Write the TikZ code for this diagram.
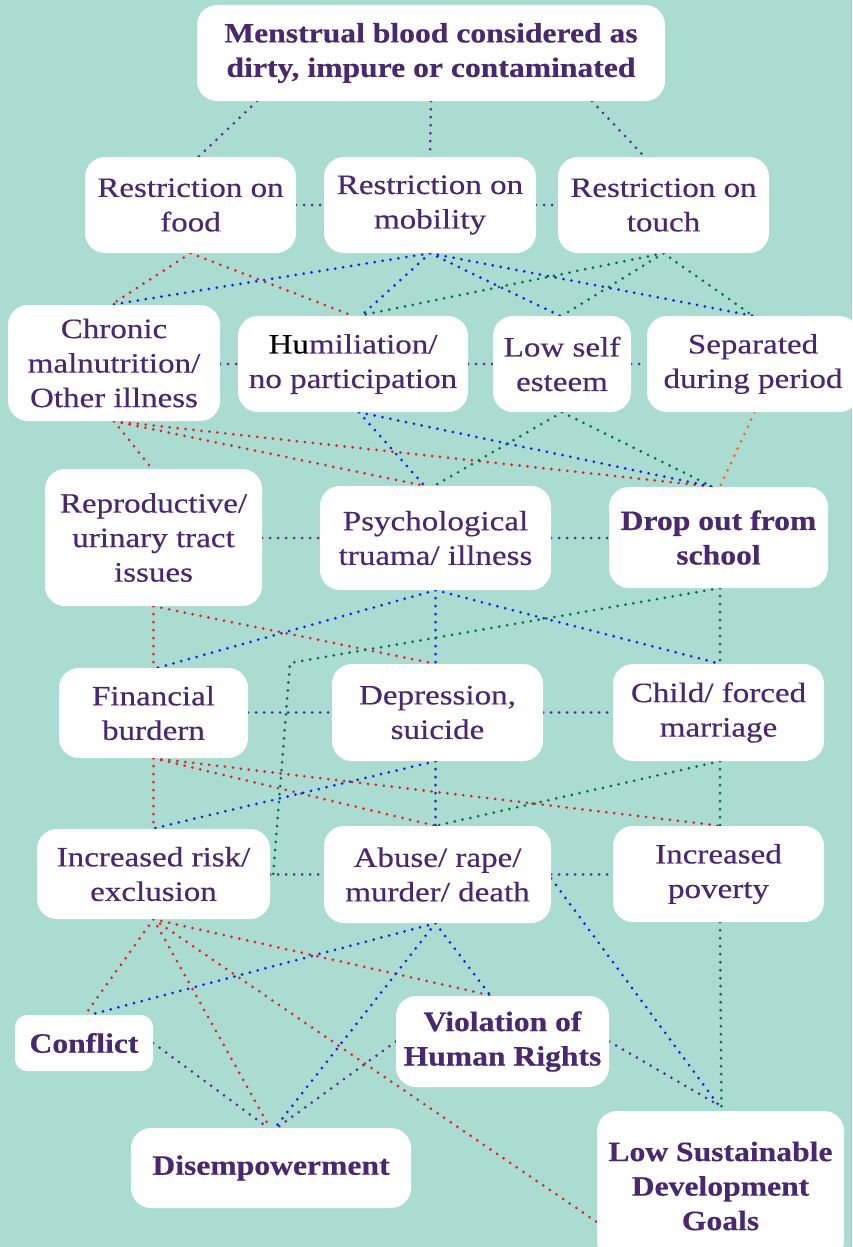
\documentclass[tikz,border=0pt]{standalone}
\usepackage{fontspec}
\setmainfont{Liberation Serif}[FakeStretch=1.18,FakeBold=0.4,BoldFeatures={FakeStretch=1.13}]
\usetikzlibrary{calc}
\definecolor{bgc}{HTML}{AADCD2}
\definecolor{txt}{HTML}{4A2870}
\definecolor{pcol}{HTML}{56308A}
\definecolor{rcol}{HTML}{E0202A}
\definecolor{bcol}{HTML}{1020F0}
\definecolor{gcol}{HTML}{0B6B45}
\definecolor{ocol}{HTML}{F0642D}
\pgfdeclarelayer{bg}
\pgfsetlayers{bg,main}
\tikzset{
  nbox/.style={fill=white, rounded corners=20pt, align=center, inner sep=0pt, text=txt,
    font=\fontsize{28}{34.5}\selectfont},
  bbox/.style={nbox, font=\fontsize{28}{34.5}\selectfont\bfseries},
  link/.style={line width=3pt, dash pattern=on 0pt off 8pt, line cap=round},
  pl/.style={link, pcol},
  rl/.style={link, rcol},
  bl/.style={link, bcol},
  gl/.style={link, gcol},
  ol/.style={link, ocol}
}
\begin{document}
\begin{tikzpicture}[x=1pt,y=-1pt]
\useasboundingbox (0,0) rectangle (852,1247);
\clip (0,0) rectangle (852,1247);

% nodes
\node[bbox, minimum width=468pt, minimum height=96pt] (top) at (431,53) {Menstrual blood considered as\\dirty, impure or contaminated};
\node[nbox, minimum width=211pt, minimum height=96pt] (food) at (190.5,205) {Restriction on\\food};
\node[nbox, minimum width=212pt, minimum height=96pt] (mob) at (430,205) {Restriction on\\mobility};
\node[nbox, minimum width=211pt, minimum height=96pt] (touch) at (663.5,205) {Restriction on\\touch};
\node[nbox, minimum width=212pt, minimum height=116pt] (chronic) at (114,363) {Chronic\\malnutrition/\\Other illness};
\node[nbox, minimum width=230pt, minimum height=96pt] (humil) at (353,364) {{\color{black}Hu}miliation/\\no participation};
\node[nbox, minimum width=138pt, minimum height=96pt] (lowself) at (562,364) {Low self\\esteem};
\node[nbox, minimum width=212pt, minimum height=96pt] (separ) at (753,364) {Separated\\during period};
\node[nbox, minimum width=217pt, minimum height=137pt] (repro) at (153.5,537.5) {Reproductive/\\urinary tract\\issues};
\node[nbox, minimum width=231pt, minimum height=104pt] (psych) at (435.5,538) {Psychological\\truama/ illness};
\node[bbox, minimum width=219pt, minimum height=101pt] (drop) at (718.5,537.5) {Drop out from\\school};
\node[nbox, minimum width=189pt, minimum height=90pt] (fin) at (153.5,713) {Financial\\burdern};
\node[nbox, minimum width=211pt, minimum height=97pt] (dep) at (437.5,712.5) {Depression,\\suicide};
\node[nbox, minimum width=211pt, minimum height=97pt] (child) at (718.5,712.5) {Child/ forced\\marriage};
\node[nbox, minimum width=233pt, minimum height=90pt] (risk) at (153.5,874) {Increased risk/\\exclusion};
\node[nbox, minimum width=227pt, minimum height=97pt] (abuse) at (437.5,874.5) {Abuse/ rape/\\murder/ death};
\node[nbox, minimum width=211pt, minimum height=96pt] (pov) at (718.5,874) {Increased\\poverty};
\node[bbox, minimum width=138pt, minimum height=56pt, rounded corners=12pt] (conflict) at (84,1043) {Conflict};
\node[bbox, minimum width=213pt, minimum height=91pt] (viol) at (502.5,1041.5) {Violation of\\Human Rights};
\node[bbox, minimum width=280pt, minimum height=80pt] (disemp) at (271,1168) {Disempowerment};
\node[bbox, minimum width=247pt, minimum height=150pt] (sdg) at (720.5,1186) {Low Sustainable\\Development\\Goals};

\coordinate (bend) at (290,663);

\begin{pgfonlayer}{bg}
\fill[bgc] (0,0) rectangle (852,1247);
% purple
\draw[pl] ([xshift=-174pt]top.south) -- ([xshift=8pt]food.north);
\draw[pl] (top.south) -- (mob.north);
\draw[pl] ([xshift=161pt]top.south) -- ([xshift=-19pt]touch.north);
\draw[pl] (food.east) -- (mob.west);
\draw[pl] (mob.east) -- (touch.west);
\draw[pl] (humil.west -| chronic.east) -- (humil.west);
\draw[pl] (humil.east) -- (lowself.west);
\draw[pl] (lowself.east) -- (separ.west);
\draw[pl] (psych.west -| repro.east) -- (psych.west);
\draw[pl] (psych.east) -- (psych.east -| drop.west);
\draw[pl] (dep.west -| fin.east) -- (dep.west);
\draw[pl] (dep.east) -- (child.west);
\draw[pl] (abuse.west -| risk.east) -- (abuse.west);
\draw[pl] (abuse.east) -- (abuse.east -| pov.west);
\draw[pl] (conflict.east) -- ([xshift=-3pt]disemp.north);
\draw[pl] (viol.west) -- ([xshift=6pt]disemp.north);
\draw[pl] (viol.east) -- ([xshift=-6pt,yshift=8pt]sdg.north);
% red
\draw[rl] (food.south) -- ([xshift=-3pt]chronic.north);
\draw[rl] (food.south) -- (humil.north);
\draw[rl] (chronic.south) -- ([xshift=-1.5pt]repro.north);
\draw[rl] (chronic.south) -- ([xshift=-11pt]psych.north);
\draw[rl] (chronic.south) -- ([xshift=-5pt]drop.north);
\draw[rl] (repro.south) -- (fin.north);
\draw[rl] (repro.south) -- ([xshift=-2pt]dep.north);
\draw[rl] (fin.south) -- (risk.north);
\draw[rl] (fin.south) -- ([xshift=-2pt]abuse.north);
\draw[rl] (fin.south) -- ([xshift=1.5pt]pov.north);
\draw[rl] (risk.south) -- ([xshift=1pt]conflict.north);
\draw[rl] (risk.south) -- ([xshift=-1pt]disemp.north);
\draw[rl] (risk.south) -- ([xshift=-10pt]viol.north);
\draw[rl] (risk.south) -- ([yshift=-36pt]sdg.west);
% orange
\draw[ol] ([xshift=1.5pt]separ.south) -- ([xshift=1.5pt]drop.north);
% blue
\draw[bl] (mob.south) -- ([xshift=-3pt]chronic.north);
\draw[bl] (mob.south) -- ([xshift=8pt]humil.north);
\draw[bl] (mob.south) -- ([xshift=-2pt]lowself.north);
\draw[bl] (mob.south) -- (separ.north);
\draw[bl] ([xshift=6pt]humil.south) -- ([xshift=-11pt]psych.north);
\draw[bl] ([xshift=6pt]humil.south) -- ([xshift=-6pt]drop.north);
\draw[bl] (psych.south) -- ([xshift=4pt]fin.north);
\draw[bl] (psych.south) -- ([xshift=-2pt]dep.north);
\draw[bl] (psych.south) -- ([xshift=1.5pt]child.north);
\draw[bl] ([xshift=-2pt]dep.south) -- ([xshift=-1.5pt]risk.north);
\draw[bl] ([xshift=-2pt]dep.south) -- ([xshift=-2pt]abuse.north);
\draw[bl] ([xshift=-2pt]abuse.south) -- ([xshift=6pt]conflict.north);
\draw[bl] ([xshift=-2pt]abuse.south) -- ([xshift=4pt]disemp.north);
\draw[bl] ([xshift=-2pt]abuse.south) -- ([xshift=-12pt]viol.north);
\draw[bl] ([yshift=-4pt]abuse.east) -- ([yshift=3pt]sdg.north);
% green
\draw[gl] (touch.south) -- ([xshift=6pt]humil.north);
\draw[gl] (touch.south) -- (lowself.north);
\draw[gl] (touch.south) -- (separ.north);
\draw[gl] (lowself.south) -- ([xshift=-1pt]psych.north);
\draw[gl] (lowself.south) -- ([xshift=-6pt]drop.north);
\draw[gl] ([xshift=1.5pt]drop.south) -- (bend) -- ([xshift=3pt]risk.east);
\draw[gl] ([xshift=1.5pt]drop.south) -- ([xshift=1.5pt]child.north);
\draw[gl] ([xshift=1.5pt]child.south) -- ([xshift=-2pt]abuse.north);
\draw[gl] ([xshift=1.5pt]child.south) -- ([xshift=1.5pt]pov.north);
\draw[gl] ([xshift=1.5pt]pov.south) -- ([xshift=1pt]sdg.north);
\end{pgfonlayer}
\end{tikzpicture}
\end{document}
